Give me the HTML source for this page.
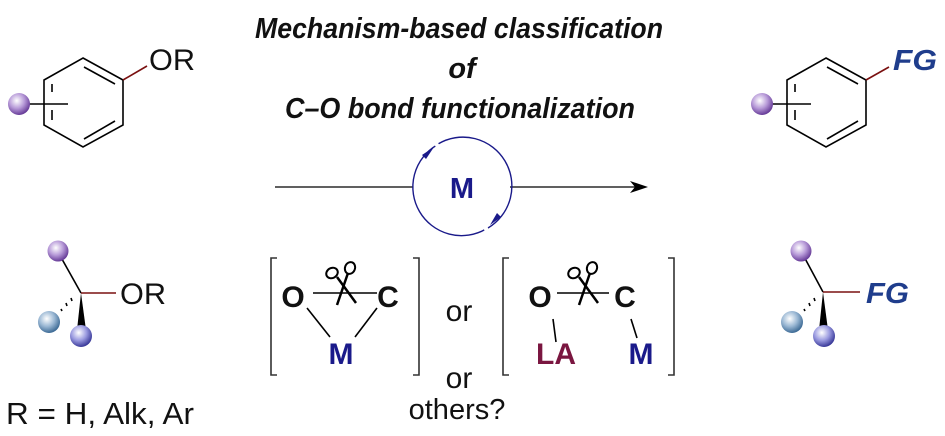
<!DOCTYPE html>
<html><head><meta charset="utf-8"><style>
html,body{margin:0;padding:0;background:#fff}
svg{display:block}
text{font-family:"Liberation Sans",Arial,sans-serif}
.t{font-family:"Liberation Sans",Arial,sans-serif;font-weight:bold;font-style:italic;font-size:29px;fill:#111}
</style></head><body>
<svg width="945" height="436" viewBox="0 0 945 436" xmlns="http://www.w3.org/2000/svg">
<defs>
<radialGradient id="pu" cx="0.4" cy="0.35" r="0.7"><stop offset="0" stop-color="#fff"/><stop offset="0.5" stop-color="#b79ad8"/><stop offset="1" stop-color="#5a2d8e"/></radialGradient>
<radialGradient id="bl" cx="0.4" cy="0.35" r="0.7"><stop offset="0" stop-color="#fff"/><stop offset="0.5" stop-color="#9bb8d4"/><stop offset="1" stop-color="#2f5f8c"/></radialGradient>
<radialGradient id="nv" cx="0.4" cy="0.35" r="0.7"><stop offset="0" stop-color="#fff"/><stop offset="0.5" stop-color="#9b9be0"/><stop offset="1" stop-color="#2a2a8e"/></radialGradient>
<g id="scis" fill="none" stroke="#000" stroke-width="2">
<ellipse cx="-8" cy="-16" rx="6" ry="5" transform="rotate(-30 -8 -16)"/>
<ellipse cx="10" cy="-21" rx="5" ry="6" transform="rotate(20 10 -21)"/>
<path d="M-3,-12 L16,14" stroke-width="2.5"/>
<path d="M8,-16 L-3,16" stroke-width="2.5"/>
</g>
</defs>
<!-- Title -->
<text class="t" x="255" y="38" textLength="408" lengthAdjust="spacingAndGlyphs">Mechanism-based classification</text>
<text class="t" x="462" y="78" text-anchor="middle">of</text>
<text class="t" x="285" y="118" textLength="350" lengthAdjust="spacingAndGlyphs">C–O bond functionalization</text>

<!-- Left benzene -->
<g stroke="#000" stroke-width="1.6" fill="none">
<polygon points="83,58 123,80 123,125 83,147 44,125 44,80"/>
<line x1="84" y1="67" x2="115" y2="84"/>
<line x1="115" y1="121" x2="84" y2="139"/>
<line x1="52" y1="84" x2="52" y2="92"/><line x1="52" y1="110" x2="52" y2="120"/>
<line x1="28" y1="104" x2="68" y2="104"/>
</g>
<line x1="123" y1="80" x2="147" y2="66" stroke="#7a1010" stroke-width="1.6"/>
<circle cx="19" cy="104" r="11" fill="url(#pu)"/>
<text x="149" y="70" font-size="30" fill="#111" textLength="46" lengthAdjust="spacingAndGlyphs">OR</text>

<!-- Left sp3 -->
<line x1="58" y1="252" x2="81" y2="293" stroke="#000" stroke-width="1.6"/>
<line x1="81" y1="293" x2="116" y2="293" stroke="#7a1010" stroke-width="1.6"/>
<g stroke="#000" stroke-width="1.6"><line x1="62" y1="311" x2="61" y2="309"/><line x1="67" y1="306" x2="66" y2="303"/><line x1="72" y1="301" x2="71" y2="298"/></g>
<polygon points="81,293 77,330 86,330" fill="#000"/>
<circle cx="58" cy="251" r="10.5" fill="url(#pu)"/>
<circle cx="49" cy="322" r="11" fill="url(#bl)"/>
<circle cx="81" cy="336" r="11" fill="url(#nv)"/>
<text x="120" y="304" font-size="30" fill="#111" textLength="46" lengthAdjust="spacingAndGlyphs">OR</text>
<text x="6" y="424" font-size="31" fill="#111" textLength="188" lengthAdjust="spacingAndGlyphs">R = H, Alk, Ar</text>

<!-- Arrow & cycle -->
<line x1="275" y1="187" x2="413" y2="187" stroke="#000" stroke-width="1.3"/>
<line x1="510" y1="187" x2="636" y2="187" stroke="#000" stroke-width="1.3"/>
<polygon points="648,187 630,181 635,187 630,193" fill="#000"/>
<path d="M437,145 A48,48 0 1,0 486,229" fill="none" stroke="#1a1a8a" stroke-width="1.4"/>
<path d="M488,228 A48,48 0 0,0 438,144" fill="none" stroke="#1a1a8a" stroke-width="1.4"/>
<polygon points="434,147 422,155 426,159" fill="#1a1a8a"/>
<polygon points="490,225 501,217 497,213" fill="#1a1a8a"/>
<circle cx="437" cy="145" r="2" fill="#fff"/><circle cx="486" cy="229" r="2" fill="#fff"/>
<text x="462" y="198" font-size="29" font-weight="bold" fill="#1a1a8a" text-anchor="middle">M</text>

<!-- Bracket 1 -->
<g stroke="#333" stroke-width="1.6" fill="none">
<path d="M277,258 H271 V375 H277"/>
<path d="M413,258 H419 V375 H413"/>
<line x1="313" y1="293" x2="377" y2="293" stroke="#000"/>
<line x1="307" y1="308" x2="330" y2="337" stroke="#000"/>
<line x1="377" y1="308" x2="355" y2="337" stroke="#000"/>
</g>
<use href="#scis" x="340" y="289"/>
<text x="293" y="307" font-size="30" font-weight="bold" fill="#111" text-anchor="middle">O</text>
<text x="388" y="307" font-size="30" font-weight="bold" fill="#111" text-anchor="middle">C</text>
<text x="341" y="364" font-size="30" font-weight="bold" fill="#1a1a8a" text-anchor="middle">M</text>
<text x="459" y="321" font-size="30" fill="#111" text-anchor="middle">or</text>
<text x="459" y="388" font-size="30" fill="#111" text-anchor="middle">or</text>
<text x="457" y="419" font-size="29" fill="#111" text-anchor="middle">others?</text>

<!-- Bracket 2 -->
<g stroke="#333" stroke-width="1.6" fill="none">
<path d="M509,258 H503 V375 H509"/>
<path d="M668,258 H674 V375 H668"/>
<line x1="557" y1="293" x2="609" y2="293" stroke="#000"/>
<line x1="553" y1="319" x2="556" y2="342" stroke="#000"/>
<line x1="631" y1="319" x2="637" y2="338" stroke="#000"/>
</g>
<use href="#scis" x="582" y="289"/>
<text x="540" y="307" font-size="30" font-weight="bold" fill="#111" text-anchor="middle">O</text>
<text x="625" y="307" font-size="30" font-weight="bold" fill="#111" text-anchor="middle">C</text>
<text x="556" y="364" font-size="30" font-weight="bold" fill="#7a1640" text-anchor="middle">LA</text>
<text x="641" y="364" font-size="30" font-weight="bold" fill="#1a1a8a" text-anchor="middle">M</text>

<!-- Right benzene -->
<g stroke="#000" stroke-width="1.6" fill="none">
<polygon points="826,58 866,80 866,125 826,147 787,125 787,80"/>
<line x1="827" y1="67" x2="858" y2="84"/>
<line x1="858" y1="121" x2="827" y2="139"/>
<line x1="795" y1="84" x2="795" y2="92"/><line x1="795" y1="110" x2="795" y2="120"/>
<line x1="771" y1="104" x2="811" y2="104"/>
</g>
<line x1="866" y1="80" x2="889" y2="67" stroke="#7a1010" stroke-width="1.6"/>
<circle cx="762" cy="104" r="11" fill="url(#pu)"/>
<text x="893" y="70" font-size="29" font-weight="bold" font-style="italic" fill="#1f3d8c" textLength="44" lengthAdjust="spacingAndGlyphs">FG</text>

<!-- Right sp3 -->
<line x1="801" y1="251" x2="823" y2="292" stroke="#000" stroke-width="1.6"/>
<line x1="823" y1="292" x2="860" y2="292" stroke="#7a1010" stroke-width="1.6"/>
<g stroke="#000" stroke-width="1.6"><line x1="805" y1="311" x2="804" y2="309"/><line x1="810" y1="306" x2="809" y2="303"/><line x1="815" y1="301" x2="814" y2="298"/></g>
<polygon points="823,292 819,330 828,330" fill="#000"/>
<circle cx="801" cy="251" r="10.5" fill="url(#pu)"/>
<circle cx="792" cy="322" r="11" fill="url(#bl)"/>
<circle cx="824" cy="336" r="11" fill="url(#nv)"/>
<text x="866" y="303" font-size="29" font-weight="bold" font-style="italic" fill="#1f3d8c" textLength="43" lengthAdjust="spacingAndGlyphs">FG</text>
</svg>
</body></html>
